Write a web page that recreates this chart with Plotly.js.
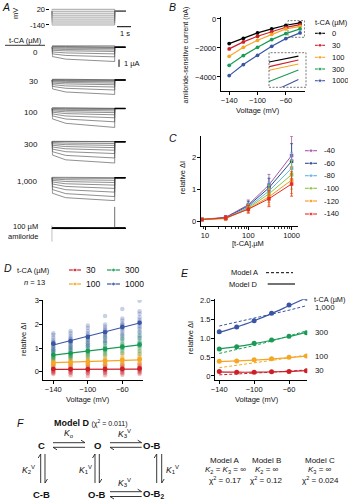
<!DOCTYPE html>
<html><head><meta charset="utf-8">
<script src="https://cdn.plot.ly/plotly-3.0.1.min.js"></script>
<style>html,body{margin:0;padding:0;background:#fff}#chart{width:348px;height:500px}</style>
</head><body><div id="chart"></div>
<script>
// ================= DATA =================
// Panel A: voltage protocol and current sweeps (µA, relative to holding current)
const stepVoltages = [20, 0, -20, -40, -60, -80, -100, -120, -140];
const holdingVoltage = 0;
const holdingCurrent = 0;
const sweepTimes = [0.05, 1.0, 4.5];      // s: start, mid, end of step
const tailEnd = 5.27;
const sweepLabels = ['0', '30', '100', '300', '1,000'];
const tca0Start = [0.2, 0.12, 0.03, -0.09, -0.23, -0.4, -0.63, -0.89, -1.25];
const tca0Mid   = [0.2, 0.11, 0.0, -0.13, -0.3, -0.48, -0.76, -1.1, -1.6];
const tca0End   = [0.2, 0.1, -0.03, -0.16, -0.36, -0.56, -0.89, -1.29, -1.92];
const tca30Start = [0.1, 0.04, -0.04, -0.14, -0.26, -0.42, -0.62, -0.86, -1.2];
const tca30Mid   = [0.1, 0.03, -0.07, -0.19, -0.34, -0.53, -0.8, -1.12, -1.62];
const tca30End   = [0.1, 0.02, -0.1, -0.24, -0.42, -0.64, -0.95, -1.35, -1.95];
const tca100Start = [0.1, 0.03, -0.06, -0.17, -0.32, -0.5, -0.73, -1.0, -1.4];
const tca100Mid   = [0.1, 0.01, -0.11, -0.26, -0.45, -0.69, -1.01, -1.42, -2.0];
const tca100End   = [0.1, 0.0, -0.15, -0.33, -0.56, -0.85, -1.25, -1.8, -2.56];
const tca300Start = [0.05, 0.0, -0.12, -0.28, -0.48, -0.72, -1.0, -1.35, -1.8];
const tca300Mid   = [0.05, -0.03, -0.19, -0.4, -0.66, -0.96, -1.35, -1.85, -2.45];
const tca300End   = [0.05, -0.05, -0.25, -0.5, -0.8, -1.15, -1.6, -2.2, -2.88];
const tca1000Start = [0.05, -0.04, -0.18, -0.36, -0.58, -0.85, -1.2, -1.6, -2.1];
const tca1000Mid   = [0.05, -0.07, -0.27, -0.52, -0.82, -1.18, -1.62, -2.15, -2.7];
const tca1000End   = [0.05, -0.1, -0.35, -0.65, -1.0, -1.45, -1.95, -2.55, -3.1];
const amiStart = [0.05, 0.04, 0.03, 0.02, 0.01, 0.0, -0.01, -0.02, -0.03];
const amiMid   = [0.05, 0.035, 0.025, 0.015, 0.005, -0.005, -0.015, -0.03, -0.045];
const amiEnd   = [0.05, 0.03, 0.02, 0.01, 0.0, -0.01, -0.02, -0.04, -0.06];
const amiOnTransient = [0.4, -1.8];
const amiOffTransient = [2.9, 0];

// Panel B: amiloride-sensitive current (nA)
const voltages = [-140, -120, -100, -80, -60, -40];
const bLabels = ['0', '30', '100', '300', '1000'];
const bCurrent0    = [-1703, -1338, -966, -690, -441, -276];
const bCurrent30   = [-2069, -1586, -1200, -876, -579, -393];
const bCurrent100  = [-2579, -1959, -1476, -1062, -690, -510];
const bCurrent300  = [-3200, -2531, -1959, -1428, -1014, -690];
const bCurrent1000 = [-3910, -3152, -2510, -1890, -1359, -966];

// Panel D/E: relative ΔI means at each voltage
const relDI30   = [0.12, 0.10, 0.10, 0.11, 0.12, 0.14];
const relDI100  = [0.39, 0.40, 0.43, 0.46, 0.50, 0.53];
const relDI300  = [0.72, 0.78, 0.87, 0.96, 1.06, 1.15];
const relDI1000 = [1.18, 1.30, 1.47, 1.67, 1.89, 2.07];

// Panel C: concentration-response by voltage
const cConc = [8.5, 30, 100, 300, 1000];
const cVoltLabels = ['-40', '-60', '-80', '-100', '-120', '-140'];
const cLowConc = [0.07, 0.07, 0.07, 0.07, 0.07, 0.07];
const cErr40  = [0, 0.05, 0.15, 0.33, 0.6];
const cErr60  = [0, 0.05, 0.14, 0.30, 0.55];
const cErr80  = [0, 0.05, 0.13, 0.28, 0.5];
const cErr100 = [0, 0.05, 0.12, 0.27, 0.45];
const cErr120 = [0, 0.05, 0.12, 0.26, 0.42];
const cErr140 = [0, 0.06, 0.12, 0.25, 0.38];

// Panel D: individual cells (n = 13) per voltage
const cells30 = [
 [0.3, 0.25, 0.2, 0.15, 0.12, 0.1, 0.08, 0.05, 0.02, -0.02, -0.05, -0.1, 0.14],
 [0.3, 0.24, 0.19, 0.15, 0.12, 0.1, 0.07, 0.04, 0.01, -0.03, -0.07, -0.15, 0.13],
 [0.3, 0.24, 0.2, 0.15, 0.12, 0.1, 0.07, 0.04, 0.0, -0.04, -0.08, -0.18, 0.13],
 [0.32, 0.26, 0.2, 0.16, 0.13, 0.1, 0.08, 0.05, 0.02, -0.03, -0.07, -0.15, 0.14],
 [0.33, 0.27, 0.22, 0.17, 0.14, 0.11, 0.09, 0.06, 0.03, -0.02, -0.06, -0.13, 0.15],
 [0.35, 0.28, 0.23, 0.18, 0.15, 0.12, 0.1, 0.07, 0.04, 0.0, -0.04, -0.1, 0.16]];
const cells100 = [
 [0.6, 0.55, 0.5, 0.45, 0.42, 0.38, 0.35, 0.32, 0.3, 0.28, 0.25, 0.4, 0.36],
 [0.65, 0.58, 0.52, 0.47, 0.43, 0.4, 0.37, 0.34, 0.31, 0.28, 0.25, 0.42, 0.38],
 [0.7, 0.62, 0.55, 0.5, 0.46, 0.43, 0.4, 0.36, 0.33, 0.3, 0.26, 0.44, 0.4],
 [0.75, 0.66, 0.6, 0.54, 0.5, 0.46, 0.43, 0.39, 0.35, 0.32, 0.28, 0.48, 0.44],
 [0.8, 0.72, 0.64, 0.58, 0.54, 0.5, 0.46, 0.42, 0.38, 0.34, 0.3, 0.52, 0.48],
 [0.88, 0.78, 0.7, 0.62, 0.58, 0.54, 0.5, 0.46, 0.42, 0.37, 0.32, 0.56, 0.52]];
const cells300 = [
 [1.2, 1.05, 0.95, 0.85, 0.8, 0.75, 0.7, 0.65, 0.6, 0.55, 0.5, 0.62, 0.72],
 [1.25, 1.1, 1.0, 0.92, 0.85, 0.8, 0.75, 0.7, 0.65, 0.6, 0.55, 0.68, 0.78],
 [1.35, 1.2, 1.1, 1.0, 0.95, 0.9, 0.85, 0.8, 0.75, 0.68, 0.6, 0.82, 0.88],
 [1.45, 1.3, 1.2, 1.1, 1.05, 1.0, 0.95, 0.9, 0.85, 0.78, 0.7, 0.92, 0.98],
 [1.55, 1.4, 1.3, 1.2, 1.15, 1.1, 1.05, 1.0, 0.95, 0.88, 0.78, 1.02, 1.08],
 [1.65, 1.5, 1.4, 1.3, 1.25, 1.2, 1.15, 1.1, 1.05, 0.98, 0.88, 0.75, 1.12]];
const cells1000 = [
 [1.62, 1.55, 1.45, 1.35, 1.28, 1.2, 1.15, 1.1, 1.02, 0.95, 0.9, 0.85, 1.25],
 [1.72, 1.62, 1.52, 1.45, 1.38, 1.3, 1.25, 1.2, 1.12, 1.05, 0.98, 0.92, 1.35],
 [1.95, 1.85, 1.72, 1.62, 1.55, 1.48, 1.42, 1.35, 1.28, 1.2, 1.12, 1.05, 1.5],
 [2.35, 2.0, 1.9, 1.82, 1.75, 1.68, 1.6, 1.55, 1.48, 1.4, 1.3, 1.22, 1.7],
 [2.65, 2.25, 2.15, 2.05, 1.98, 1.9, 1.85, 1.78, 1.7, 1.6, 1.5, 1.38, 1.95],
 [3.0, 2.55, 2.45, 2.3, 2.2, 2.12, 2.05, 1.95, 1.88, 1.8, 1.7, 1.55, 1.42]];
const fitVoltages = [-140, -40];
const fit30 = [0.10, 0.11], fit100 = [0.38, 0.50], fit300 = [0.70, 1.13], fit1000 = [1.13, 2.06];

// Panel E: model curves
const modelD30   = [0.11, 0.10, 0.10, 0.11, 0.12, 0.14];
const modelD100  = [0.38, 0.40, 0.42, 0.45, 0.49, 0.53];
const modelD300  = [0.72, 0.78, 0.86, 0.95, 1.05, 1.16];
const modelD1000 = [1.16, 1.30, 1.47, 1.66, 1.87, 2.08];
const modelA30   = [0.03, 0.05, 0.07, 0.10, 0.13, 0.16];
const modelA100  = [0.22, 0.28, 0.34, 0.41, 0.48, 0.56];
const modelA300  = [0.60, 0.70, 0.81, 0.93, 1.06, 1.20];
const modelA1000 = [1.33, 1.43, 1.53, 1.64, 1.75, 1.87];

// ================= HELPERS =================
const FONT = 'Liberation Sans, Arial, Helvetica, sans-serif';
const W = 348, H = 500;
const fx = p => p / W, fy = p => 1 - p / H;
const domX = (a, b) => [fx(a), fx(b)];
const domY = (top, bot) => [fy(bot), fy(top)];
const cBlack = '#000000', cRed = '#cc1f28', cOrange = '#f5a623', cGreen = '#1a9b55', cBlue = '#3a55a4';
const bColors = [cBlack, cRed, cOrange, cGreen, cBlue];
const cColors = ['#a559a4', '#2d4a8e', '#5cb5e6', '#8cc43f', '#f7941d', '#e52a27'];
const tickFont = {family: FONT, size: 7.5, color: '#111'};
function ax(extra) {
  return Object.assign({showgrid: false, zeroline: false, showline: true, linecolor: '#000', linewidth: 1,
    ticks: 'outside', ticklen: 3, tickwidth: 1, tickcolor: '#000', tickfont: tickFont, fixedrange: true,
    ticklabelstandoff: -1}, extra);
}
const hidden = extra => Object.assign({visible: false, fixedrange: true, showgrid: false, zeroline: false}, extra);
const annotations = [];
function txt(t, x, y, size, o) {
  annotations.push(Object.assign({text: t, x: fx(x), y: fy(y), xref: 'paper', yref: 'paper', showarrow: false,
    xanchor: 'center', yanchor: 'middle', font: {family: FONT, size: size || 7.5, color: '#111'}}, o || {}));
}
const shapes = [];
function pline(x0, y0, x1, y1, o) {
  shapes.push(Object.assign({type: 'line', xref: 'paper', yref: 'paper', x0: fx(x0), y0: fy(y0), x1: fx(x1), y1: fy(y1),
    line: {color: '#000', width: 1}}, o || {}));
}
const P = (x, y) => fx(x).toFixed(5) + ',' + fy(y).toFixed(5);
function ppath(pts, w) {
  shapes.push({type: 'path', xref: 'paper', yref: 'paper', path: 'M' + pts.map(p => P(p[0], p[1])).join(' L'),
    line: {color: '#222', width: w || 0.9}});
}

const traces = [];
// ================= PANEL A =================
const protoColor = '#666';
stepVoltages.forEach(v => {
  traces.push({x: [0, 0, sweepTimes[2], sweepTimes[2], tailEnd + 0.03], y: [holdingVoltage, v, v, holdingVoltage, holdingVoltage],
    xaxis: 'x', yaxis: 'y', mode: 'lines', line: {color: protoColor, width: 0.6}, hoverinfo: 'skip'});
});
const sweepGroups = [
  [tca0Start, tca0Mid, tca0End], [tca30Start, tca30Mid, tca30End], [tca100Start, tca100Mid, tca100End],
  [tca300Start, tca300Mid, tca300End], [tca1000Start, tca1000Mid, tca1000End], [amiStart, amiMid, amiEnd]];
sweepGroups.forEach((g, gi) => {
  const ya = 'y' + (gi + 2);
  const isAmi = gi === 5;
  stepVoltages.forEach((v, k) => {
    traces.push({x: [0, sweepTimes[0], sweepTimes[1], sweepTimes[2], sweepTimes[2], tailEnd],
      y: [holdingCurrent, g[0][k], g[1][k], g[2][k], holdingCurrent, holdingCurrent],
      xaxis: 'x', yaxis: ya, mode: 'lines', line: {color: isAmi ? '#000' : '#444', width: isAmi ? 0.8 : 0.6}, hoverinfo: 'skip'});
  });
  traces.push({x: [sweepTimes[2], tailEnd], y: [holdingCurrent, holdingCurrent], xaxis: 'x', yaxis: ya, mode: 'lines',
    line: {color: '#000', width: 1.6}, hoverinfo: 'skip'});
  if (isAmi) {
    traces.push({x: [0, 0], y: amiOnTransient, xaxis: 'x', yaxis: ya, mode: 'lines', line: {color: '#333', width: 0.7}});
    traces.push({x: [sweepTimes[2], sweepTimes[2]], y: amiOffTransient, xaxis: 'x', yaxis: ya, mode: 'lines', line: {color: '#333', width: 0.7}});
  }
});
const groupHoldPx = [47.3, 80, 108.5, 141.7, 177.7, 228.3];
const pxPerUA = 7.4;
const aCurrentAxes = {};
groupHoldPx.forEach((h, i) => {
  aCurrentAxes['yaxis' + (i + 2)] = hidden({domain: domY(h - 25, h + 25), range: [-25 / pxPerUA, 25 / pxPerUA], anchor: 'x'});
});

// ================= PANEL B =================
const bSeries = [bCurrent0, bCurrent30, bCurrent100, bCurrent300, bCurrent1000];
bSeries.forEach((s, i) => {
  traces.push({x: voltages, y: s, xaxis: 'x2', yaxis: 'y8', mode: 'lines+markers',
    line: {color: bColors[i], width: 1.2}, marker: {color: bColors[i], size: 3.8}});
  traces.push({x: voltages, y: s, xaxis: 'x3', yaxis: 'y9', mode: 'lines',
    line: {color: bColors[i], width: 1.1}});
});

// ================= PANEL C =================
const cErrs = [cErr40, cErr60, cErr80, cErr100, cErr120, cErr140];
const relAll = [relDI30, relDI100, relDI300, relDI1000];
cVoltLabels.forEach((lab, j) => {
  const vi = voltages.indexOf(Number(lab));
  const ys = [cLowConc[vi]].concat(relAll.map(r => r[vi]));
  traces.push({x: cConc, y: ys, xaxis: 'x4', yaxis: 'y10', mode: 'lines+markers',
    line: {color: cColors[j], width: 1}, marker: {color: cColors[j], size: 3.5, symbol: 'square'},
    error_y: {type: 'data', array: cErrs[j], color: cColors[j], thickness: 0.8, width: 1.5}});
});

// ================= PANEL D =================
const dCells = [cells30, cells100, cells300, cells1000];
const dColors = [cRed, cOrange, cGreen, cBlue];
const dFits = [fit30, fit100, fit300, fit1000];
dCells.forEach((c, i) => {
  const xs = [], ys = [];
  c.forEach((arr, k) => arr.forEach(v => { xs.push(voltages[k]); ys.push(v); }));
  traces.push({x: xs, y: ys, xaxis: 'x5', yaxis: 'y11', mode: 'markers',
    marker: {color: dColors[i], size: 4.5, opacity: 0.28}});
});
dCells.forEach((c, i) => {
  traces.push({x: fitVoltages, y: dFits[i], xaxis: 'x5', yaxis: 'y11', mode: 'lines', line: {color: dColors[i], width: 1.2}});
  traces.push({x: voltages, y: relAll[i], xaxis: 'x5', yaxis: 'y11', mode: 'markers', marker: {color: dColors[i], size: 4.5}});
});

// ================= PANEL E =================
const modelD = [modelD30, modelD100, modelD300, modelD1000];
const modelA = [modelA30, modelA100, modelA300, modelA1000];
relAll.forEach((r, i) => {
  traces.push({x: voltages, y: modelA[i], xaxis: 'x6', yaxis: 'y12', mode: 'lines', line: {color: dColors[i], width: 1, dash: '3px,2px'}});
  traces.push({x: voltages, y: modelD[i], xaxis: 'x6', yaxis: 'y12', mode: 'lines', line: {color: dColors[i], width: 1.2, shape: 'spline'}});
  traces.push({x: voltages, y: r, xaxis: 'x6', yaxis: 'y12', mode: 'markers', marker: {color: dColors[i], size: 5}});
});

// ================= LEGEND SAMPLES (pixel overlay) =================
function legendSample(x0, x1, y, color, w, dash) {
  traces.push({x: [x0, (x0 + x1) / 2, x1], y: [y, y, y], xaxis: 'x7', yaxis: 'y13', mode: dash ? 'lines' : 'lines+markers',
    line: {color: color, width: w || 1.1, dash: dash || 'solid'}, marker: {color: color, size: [0, 3.8, 0]}});
}
const bRows = [33.3, 45.3, 57.3, 69, 80.7];
bLabels.forEach((l, i) => { legendSample(315, 325, bRows[i], bColors[i]); txt(l, 330, bRows[i], 7.5, {xanchor: 'left'}); });
txt('t-CA (µM)', 313, 22.5, 7.5, {xanchor: 'left'});
const cRows = [150.7, 163.3, 175.7, 188.3, 201, 214];
cVoltLabels.forEach((l, i) => { legendSample(305, 317, cRows[i], cColors[i]); txt(l, 321.5, cRows[i], 7.5, {xanchor: 'left'}); });
const dLeg = [[69, 81, 270, '30'], [69, 81, 284, '100'], [107, 120, 270, '300'], [107, 120, 284, '1000']];
dLeg.forEach((d, i) => { legendSample(d[0], d[1], d[2], dColors[i], 1.2); txt(d[3], d[1] + 3, d[2], 8.5, {xanchor: 'left'}); });

// ================= TEXT =================
// panel letters
[['A', 6, 7], ['B', 172, 7], ['C', 173, 138], ['D', 8, 268], ['E', 185, 273], ['F', 20, 423]].forEach(p =>
  txt('<i>' + p[0] + '</i>', p[1], p[2], 10.5));
// A
txt('mV', 15, 14, 7.5, {textangle: -90});
txt('t-CA (µM)', 25, 41, 7.5);
pline(5, 45.3, 45, 45.3, {line: {color: '#000', width: 0.8}});
const labelPx = [52.3, 81, 112.3, 144.3, 181.7];
sweepLabels.forEach((l, i) => txt(l, 40, labelPx[i], 8, {xanchor: 'right'}));
txt('100 µM', 40, 227, 7.5, {xanchor: 'right'});
txt('amiloride', 40, 236, 7.5, {xanchor: 'right'});
pline(117, 26.7, 131, 26.7, {line: {color: '#000', width: 1}});
txt('1 s', 125, 33, 7.5);
pline(119, 59.5, 119, 66.9, {line: {color: '#000', width: 1}});
txt('1 µA', 122, 63.5, 7.5, {xanchor: 'left'});
// B
txt('Voltage (mV)', 258, 110.5, 7.5);
txt('amiloride-sensitive current (nA)', 185.5, 55, 7, {textangle: -90});
// C
txt('relative ΔI', 182.2, 178, 7.5, {textangle: -90});
txt('[t-CA],µM', 248.3, 243, 7.5);
// D
txt('t-CA (µM)', 33, 270, 7.5);
txt('<i>n</i> = 13', 34, 282, 7.5);
txt('relative ΔI', 23, 340, 7.5, {textangle: -90});
txt('Voltage (mV)', 88, 399.5, 7.5);
// E
txt('Model A', 245, 272.7, 7.5);
pline(266, 272.7, 293, 272.7, {line: {color: '#000', width: 1, dash: '3px,2px'}});
txt('Model D', 243.3, 284, 7.5);
pline(267.7, 284, 295, 284, {line: {color: '#000', width: 1.1}});
txt('relative ΔI', 190.2, 338, 7.5, {textangle: -90});
txt('Voltage (mV)', 257, 399, 7.5);
txt('t-CA (µM)', 312, 299, 7.3, {xanchor: 'left'});
txt('1,000', 313, 307.5, 7.8, {xanchor: 'left'});
txt('300', 313, 332.3, 7.8, {xanchor: 'left'});
txt('100', 313, 356, 7.8, {xanchor: 'left'});
txt('30', 313, 370.7, 7.8, {xanchor: 'left'});
// F
txt('<b>Model D</b> <span style="font-size:7px">(χ<sup>2</sup> = 0.011)</span>', 52, 422.7, 9, {xanchor: 'left'});
txt('<i>K</i><sub>o</sub>', 69, 433.3, 8.5);
txt('<i>K</i><sub>3</sub><sup>V</sup>', 125, 433.3, 8.5);
txt('<b>C</b>', 41.7, 445, 9.5);
txt('<b>O</b>', 97.3, 445, 9.5);
txt('<b>O-B</b>', 151.7, 445, 9.5);
txt('<b>C-B</b>', 41.7, 494, 9.5);
txt('<b>O-B</b>', 96.7, 494, 9.5);
txt('<b>O-B<sub>2</sub></b>', 153.3, 494, 9.5);
txt('<i>K</i><sub>2</sub><sup>V</sup>', 28.3, 469.3, 8.5);
txt('<i>K</i><sub>1</sub><sup>V</sup>', 85, 469.3, 8.5);
txt('<i>K</i><sub>1</sub><sup>V</sup>', 172.5, 469.3, 8.5);
txt('<i>K</i><sub>3</sub><sup>V</sup>', 125, 482.7, 8.5);
[['Model A', '<i>K</i><sub>2</sub> = <i>K</i><sub>3</sub> = ∞', 'χ<sup>2</sup> = 0.17', 225],
 ['Model B', '<i>K</i><sub>2</sub> = ∞', 'χ<sup>2</sup> = 0.12', 266.7],
 ['Model C', '<i>K</i><sub>3</sub> = ∞', 'χ<sup>2</sup> = 0.024', 320]].forEach(m => {
  txt(m[0], m[3], 460, 8); txt(m[1], m[3], 470, 8); txt(m[2], m[3], 480, 8);
});
// F arrows (equilibrium harpoons)
function hPair(x1, x2, yT, yB) {
  ppath([[x1, yT], [x2, yT], [x2 - 4, yT - 2.5]]);
  ppath([[x2, yB], [x1, yB], [x1 + 4, yB + 2.5]]);
}
function vPair(xL, xR, y1, y2) {
  ppath([[xL, y2], [xL, y1], [xL - 2.5, y1 + 4]]);
  ppath([[xR, y1], [xR, y2], [xR + 2.5, y2 - 4]]);
}
hPair(53, 85, 442.7, 447.3);
hPair(110, 141.7, 442.7, 447.3);
hPair(110, 141.7, 491.7, 496.5);
vPair(40.7, 45, 454, 483);
vPair(95, 99.3, 454, 483);
vPair(156.7, 161.7, 454, 483);

// B boxes
shapes.push({type: 'rect', xref: 'x2', yref: 'y8', x0: -57, x1: -33.5, y0: -1270, y1: -120,
  line: {color: '#555', width: 0.8, dash: '2px,1.5px'}});
shapes.push({type: 'rect', xref: 'paper', yref: 'paper', x0: fx(269), x1: fx(306), y0: fy(87.3), y1: fy(52.7),
  line: {color: '#555', width: 0.8, dash: '2px,1.5px'}});

// ================= LAYOUT =================
const layout = Object.assign({
  width: W, height: H, margin: {l: 0, r: 0, t: 0, b: 0}, showlegend: false,
  paper_bgcolor: '#fff', plot_bgcolor: 'rgba(0,0,0,0)', font: {family: FONT, size: 7.5, color: '#111'},
  xaxis: hidden({domain: domX(51.7, 131), range: [0, 5.664], anchor: 'y'}),
  yaxis: ax({domain: domY(8, 26), range: [-150.4, 33.3], anchor: 'free', position: fx(48.5), showline: false,
    tickvals: [20, -140], ticktext: ['20', '-140']}),
  xaxis2: ax({domain: domX(220.7, 305), range: [-152, -33], anchor: 'y8', tickvals: [-140, -100, -60]}),
  yaxis8: ax({domain: domY(17, 90.7), range: [-4950, 130], anchor: 'x2', tickvals: [0, -2000, -4000]}),
  xaxis3: hidden({domain: domX(269, 306), range: [-61, -34.6], anchor: 'y9'}),
  yaxis9: hidden({domain: domY(52.7, 87.3), range: [-1200, -175], anchor: 'x3'}),
  xaxis4: ax({type: 'log', domain: domX(200.7, 298.3), range: [0.9, 3.155], anchor: 'y10',
    tickvals: [10, 100, 1000], ticktext: ['10', '100', '1000'],
    minor: {ticks: 'outside', ticklen: 1.8, tickcolor: '#000', tickwidth: 0.8,
      tickvals: [9, 20, 30, 40, 50, 60, 70, 80, 90, 200, 300, 400, 500, 600, 700, 800, 900]}}),
  yaxis10: ax({domain: domY(136, 226), range: [-0.134, 2.68], anchor: 'x4', tickvals: [0, 1, 2]}),
  xaxis5: ax({domain: domX(43.3, 143.3), range: [-151.6, -35.7], anchor: 'y11', tickvals: [-140, -100, -60]}),
  yaxis11: ax({domain: domY(300, 380), range: [-0.35, 3.03], anchor: 'x5', tickvals: [0, 1, 2, 3]}),
  xaxis6: ax({domain: domX(215, 307.3), range: [-144.9, -39], anchor: 'y12', tickvals: [-140, -100, -60]}),
  yaxis12: ax({domain: domY(299.3, 380), range: [-0.107, 2.04], anchor: 'x6', tickvals: [0, 0.5, 1, 1.5, 2],
    ticktext: ['0', '0.5', '1.0', '1.5', '2.0']}),
  xaxis7: hidden({domain: [0, 1], range: [0, W], anchor: 'y13'}),
  yaxis13: hidden({domain: [0, 1], range: [H, 0], anchor: 'x7'}),
  annotations: annotations, shapes: shapes
}, aCurrentAxes);

Plotly.newPlot('chart', traces, layout, {staticPlot: true, displayModeBar: false});
</script></body></html>
